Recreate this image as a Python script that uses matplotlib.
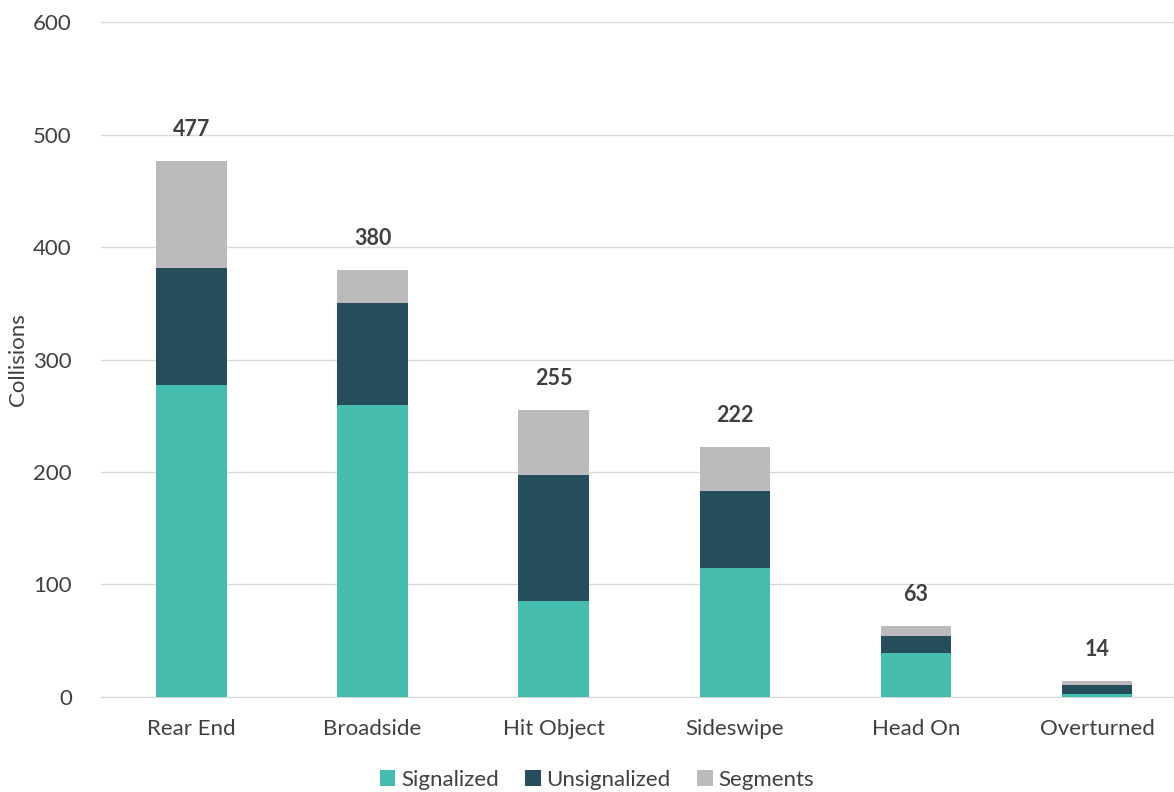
import matplotlib.pyplot as plt
import numpy as np

categories = ["Rear End", "Broadside", "Hit Object", "Sideswipe", "Head On", "Overturned"]
signalized = [277, 260, 85, 115, 39, 3]
unsignalized = [104, 90, 112, 68, 15, 8]
segments = [96, 30, 58, 39, 9, 3]

plt.rcParams["font.family"] = ["Lato", "DejaVu Sans"]
text_color = "#404040"

fig = plt.figure(figsize=(11.74, 7.92), dpi=100)
ax = fig.add_axes([0.086, 0.12, 0.914, 0.852])

x = np.arange(len(categories))
width = 0.39
sig = np.array(signalized)
uns = np.array(unsignalized)
seg = np.array(segments)

ax.bar(x, sig, width, color="#45bcae", label="Signalized", zorder=3)
ax.bar(x, uns, width, bottom=sig, color="#264d5c", label="Unsignalized", zorder=3)
ax.bar(x, seg, width, bottom=sig + uns, color="#bbbbbd", label="Segments", zorder=3)

totals = sig + uns + seg
for xi, t in zip(x, totals):
    ax.annotate(str(t), (xi, t), xytext=(0, 15), textcoords="offset points",
                ha="center", va="bottom", fontsize=15.5, fontweight="bold", color=text_color)

ax.set_ylim(0, 600)
ax.set_xlim(-0.5, 5.425)
ax.set_yticks(range(0, 601, 100))
ax.set_xticks(x)
ax.set_xticklabels(categories)
ax.tick_params(axis="both", length=0, labelsize=16, colors=text_color)
ax.tick_params(axis="x", pad=16)
ax.tick_params(axis="y", pad=21)
ax.grid(axis="y", color="#d9d9d9", linewidth=1, zorder=0)
for s in ["top", "right", "left"]:
    ax.spines[s].set_visible(False)
ax.spines["bottom"].set_color("#d9d9d9")

fig.text(18 / 1174, 1 - 360 / 792, "Collisions", rotation=90, ha="center", va="center",
         fontsize=16, color=text_color)

fig.legend(*ax.get_legend_handles_labels(), loc="center", bbox_to_anchor=(597 / 1174, 1 - 780 / 792),
           ncol=3, frameon=False, fontsize=16, handlelength=0.7, handleheight=0.7,
           handletextpad=0.25, columnspacing=1.2, labelcolor=text_color, borderpad=0)

plt.savefig("out.png", dpi=100)
